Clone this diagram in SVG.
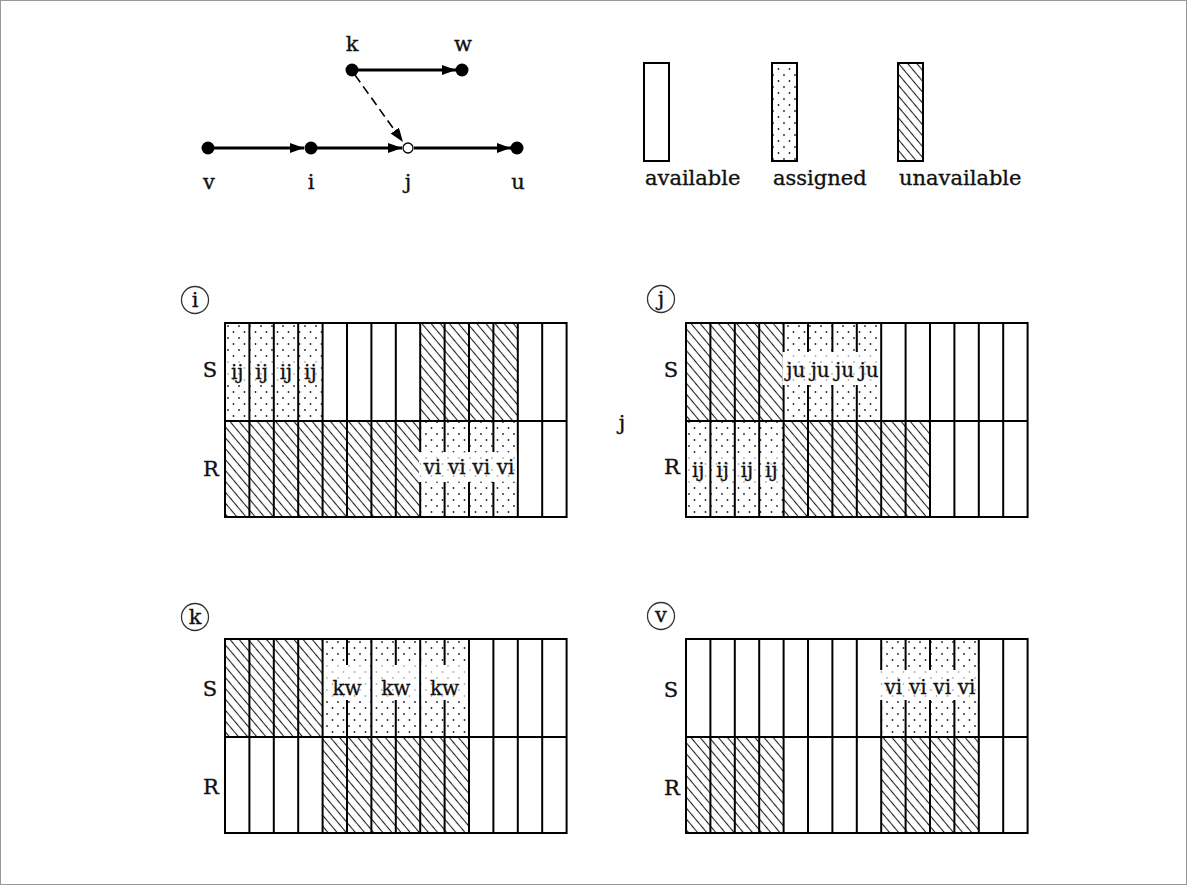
<svg xmlns="http://www.w3.org/2000/svg" xmlns:xlink="http://www.w3.org/1999/xlink" width="1187" height="885" viewBox="0 0 1187 885">
<style>
.t{font-family:"DejaVu Serif","Liberation Serif",serif;font-size:21px;fill:#111;stroke:#111;stroke-width:0.35}
.c{font-family:"DejaVu Serif","Liberation Serif",serif;font-size:20px;fill:#111;stroke:#111;stroke-width:0.3;text-anchor:middle}
.m{text-anchor:middle}
.dot{fill:#000}
.edge{stroke:#000;stroke-width:3;fill:none}
.grid{stroke:#000;stroke-width:2;fill:none}
.band{fill:#fff}
.fade{fill:url(#dots);opacity:0.35}
.lab{fill:#fff;stroke:#333;stroke-width:1.3}
</style>
<defs>
<pattern id="dots" width="11" height="12" patternUnits="userSpaceOnUse">
<rect width="11" height="12" fill="#fff"/>
<circle cx="3" cy="3" r="0.9" fill="#222"/>
<circle cx="8.5" cy="9" r="0.9" fill="#222"/>
</pattern>
<pattern id="hatch" width="7" height="7" patternUnits="userSpaceOnUse" patternTransform="rotate(-40)">
<rect width="7" height="7" fill="#fff"/>
<line x1="3.5" y1="0" x2="3.5" y2="7" stroke="#222" stroke-width="1.1"/>
</pattern>
<marker id="ah" viewBox="0 0 14 10" refX="14" refY="5" markerWidth="14" markerHeight="10" markerUnits="userSpaceOnUse" orient="auto">
<path d="M0,0 L14,5 L0,10 Z" fill="#000"/>
</marker>
<path id="grid" class="grid" d="M0 0H341.6V194H0Z M24.4 0V194 M48.8 0V194 M73.2 0V194 M97.6 0V194 M122 0V194 M146.4 0V194 M170.8 0V194 M195.2 0V194 M219.6 0V194 M244 0V194 M268.4 0V194 M292.8 0V194 M317.2 0V194 M0 98H341.6"/>
</defs>
<rect x="0.5" y="0.5" width="1186" height="884" fill="#fff" stroke="#999" stroke-width="1"/>

<g id="connectors">
<line class="edge" x1="214" y1="148" x2="304" y2="148" marker-end="url(#ah)"/>
<line class="edge" x1="317" y1="148" x2="402" y2="148" marker-end="url(#ah)"/>
<line class="edge" x1="414" y1="148" x2="511" y2="148" marker-end="url(#ah)"/>
<line class="edge" x1="358" y1="70" x2="456" y2="70" marker-end="url(#ah)"/>
<line x1="355" y1="75" x2="403" y2="142" stroke="#000" stroke-width="1.6" stroke-dasharray="9,5" marker-end="url(#ah)"/>
</g>
<g id="node-v"><circle class="dot" cx="208" cy="148" r="6.5"/><text class="t m" x="209" y="189">v</text></g>
<g id="node-i"><circle class="dot" cx="311" cy="148" r="6.5"/><text class="t m" x="311" y="189">i</text></g>
<g id="node-j"><circle cx="408" cy="148" r="5" fill="#fff" stroke="#000" stroke-width="1.3"/><text class="t m" x="408" y="189">j</text></g>
<g id="node-u"><circle class="dot" cx="517" cy="148" r="6.5"/><text class="t m" x="518" y="189">u</text></g>
<g id="node-k"><circle class="dot" cx="352" cy="70" r="6.5"/><text class="t m" x="352" y="51">k</text></g>
<g id="node-w"><circle class="dot" cx="462" cy="70" r="6.5"/><text class="t m" x="463" y="51">w</text></g>

<g id="legend">
<rect x="644" y="63" width="25" height="98" fill="#fff" stroke="#000" stroke-width="2"/>
<rect x="772" y="63" width="25" height="98" fill="url(#dots)" stroke="#000" stroke-width="2"/>
<rect x="898" y="63" width="25" height="98" fill="url(#hatch)" stroke="#000" stroke-width="2"/>
<text class="t" x="645" y="185">available</text>
<text class="t" x="773" y="185">assigned</text>
<text class="t" x="899" y="185">unavailable</text>
</g>

<g id="panel-i" transform="translate(225,323)">
<rect x="0" y="0" width="97.6" height="98" fill="url(#dots)"/>
<rect x="195.2" y="0" width="97.6" height="98" fill="url(#hatch)"/>
<rect x="0" y="98" width="195.2" height="96" fill="url(#hatch)"/>
<rect x="195.2" y="98" width="97.6" height="96" fill="url(#dots)"/>
<use xlink:href="#grid"/>
<rect class="band" x="1.5" y="36" width="21.4" height="26"/><rect class="fade" x="1.5" y="36" width="21.4" height="26"/>
<rect class="band" x="25.9" y="36" width="21.4" height="26"/><rect class="fade" x="25.9" y="36" width="21.4" height="26"/>
<rect class="band" x="50.3" y="36" width="21.4" height="26"/><rect class="fade" x="50.3" y="36" width="21.4" height="26"/>
<rect class="band" x="74.7" y="36" width="21.4" height="26"/><rect class="fade" x="74.7" y="36" width="21.4" height="26"/>
<rect class="band" x="194" y="129" width="97.5" height="30"/><rect class="fade" x="194" y="129" width="97.5" height="30"/>
<circle class="lab" cx="-30" cy="-23" r="13.5"/>
<text class="t m" x="-30" y="-16">i</text>
<text class="t m" x="-15" y="54">S</text>
<text class="t m" x="-14" y="153">R</text>
<text class="c" x="12.2" y="56">ij</text><text class="c" x="36.6" y="56">ij</text><text class="c" x="61" y="56">ij</text><text class="c" x="85.4" y="56">ij</text>
<text class="c" x="207.4" y="151">vi</text><text class="c" x="231.8" y="151">vi</text><text class="c" x="256.2" y="151">vi</text><text class="c" x="280.6" y="151">vi</text>
</g>

<text id="label-j-side" class="t m" x="622" y="430">j</text>

<g id="panel-j" transform="translate(686,323)">
<rect x="0" y="0" width="97.6" height="98" fill="url(#hatch)"/>
<rect x="97.6" y="0" width="97.6" height="98" fill="url(#dots)"/>
<rect x="0" y="98" width="97.6" height="96" fill="url(#dots)"/>
<rect x="97.6" y="98" width="146.4" height="96" fill="url(#hatch)"/>
<use xlink:href="#grid"/>
<rect class="band" x="96.5" y="29" width="97.5" height="33"/><rect class="fade" x="96.5" y="29" width="97.5" height="33"/>
<rect class="band" x="1.5" y="134" width="21.4" height="26"/><rect class="fade" x="1.5" y="134" width="21.4" height="26"/>
<rect class="band" x="25.9" y="134" width="21.4" height="26"/><rect class="fade" x="25.9" y="134" width="21.4" height="26"/>
<rect class="band" x="50.3" y="134" width="21.4" height="26"/><rect class="fade" x="50.3" y="134" width="21.4" height="26"/>
<rect class="band" x="74.7" y="134" width="21.4" height="26"/><rect class="fade" x="74.7" y="134" width="21.4" height="26"/>
<circle class="lab" cx="-25" cy="-24" r="13.5"/>
<text class="t m" x="-25" y="-17">j</text>
<text class="t m" x="-15" y="54">S</text>
<text class="t m" x="-14" y="151">R</text>
<text class="c" x="109.8" y="54">ju</text><text class="c" x="134.2" y="54">ju</text><text class="c" x="158.6" y="54">ju</text><text class="c" x="183" y="54">ju</text>
<text class="c" x="12.2" y="154">ij</text><text class="c" x="36.6" y="154">ij</text><text class="c" x="61" y="154">ij</text><text class="c" x="85.4" y="154">ij</text>
</g>

<g id="panel-k" transform="translate(225,639)">
<rect x="0" y="0" width="97.6" height="98" fill="url(#hatch)"/>
<rect x="97.6" y="0" width="146.4" height="98" fill="url(#dots)"/>
<rect x="97.6" y="98" width="146.4" height="96" fill="url(#hatch)"/>
<use xlink:href="#grid"/>
<rect class="band" x="99" y="26" width="46" height="35"/><rect class="fade" x="99" y="26" width="46" height="35"/>
<rect class="band" x="148" y="26" width="46" height="35"/><rect class="fade" x="148" y="26" width="46" height="35"/>
<rect class="band" x="196.7" y="26" width="46" height="35"/><rect class="fade" x="196.7" y="26" width="46" height="35"/>
<circle class="lab" cx="-30" cy="-22" r="13.5"/>
<text class="t m" x="-30" y="-15">k</text>
<text class="t m" x="-15" y="57">S</text>
<text class="t m" x="-14" y="155">R</text>
<text class="c" x="122" y="56" font-size="21">kw</text><text class="c" x="170.8" y="56" font-size="21">kw</text><text class="c" x="219.6" y="56" font-size="21">kw</text>
</g>

<g id="panel-v" transform="translate(686,639)">
<rect x="195.2" y="0" width="97.6" height="98" fill="url(#dots)"/>
<rect x="0" y="98" width="97.6" height="96" fill="url(#hatch)"/>
<rect x="195.2" y="98" width="97.6" height="96" fill="url(#hatch)"/>
<use xlink:href="#grid"/>
<rect class="band" x="194" y="31" width="97.5" height="30"/><rect class="fade" x="194" y="31" width="97.5" height="30"/>
<circle class="lab" cx="-25" cy="-23" r="13.5"/>
<text class="t m" x="-25" y="-17">v</text>
<text class="t m" x="-15" y="58">S</text>
<text class="t m" x="-14" y="156">R</text>
<text class="c" x="207.4" y="55">vi</text><text class="c" x="231.8" y="55">vi</text><text class="c" x="256.2" y="55">vi</text><text class="c" x="280.6" y="55">vi</text>
</g>
</svg>
